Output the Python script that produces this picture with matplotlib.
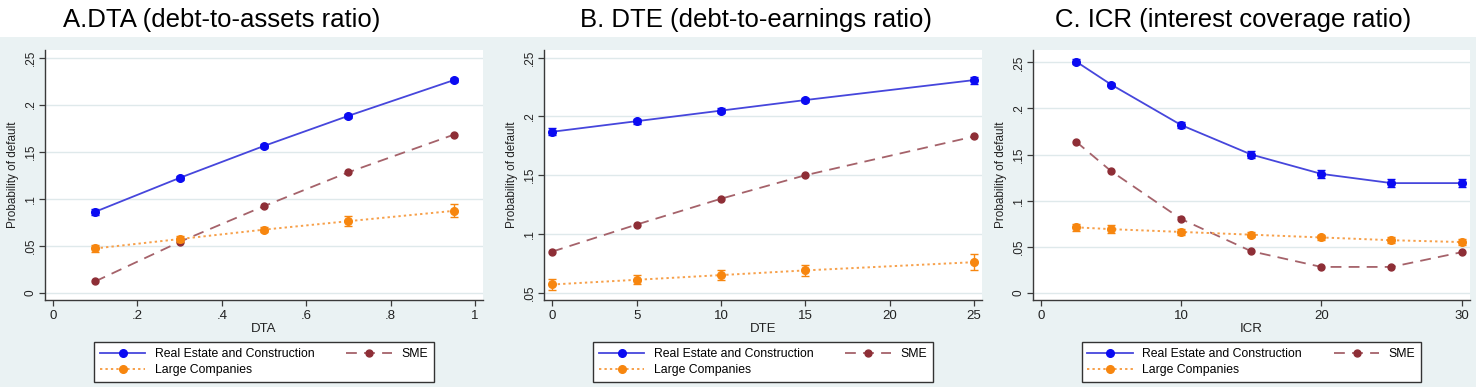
import matplotlib
matplotlib.use("Agg")
import matplotlib.pyplot as plt
import matplotlib.ticker as mticker
from matplotlib.patches import Rectangle
from matplotlib.lines import Line2D

plt.rcParams['font.family'] = ['Liberation Sans', 'DejaVu Sans']

# ---- data ----
titles = ["A.DTA (debt-to-assets ratio)", "B. DTE (debt-to-earnings ratio)", "C. ICR (interest coverage ratio)"]
xlabels = ["DTA", "DTE", "ICR"]
series_names = ["Real Estate and Construction", "SME", "Large Companies"]

dta_x = [0.1, 0.3, 0.5, 0.7, 0.95]
dta_re = [0.086, 0.122, 0.156, 0.188, 0.226]
dta_sme = [0.012, 0.054, 0.092, 0.128, 0.168]
dta_large = [0.047, 0.057, 0.067, 0.076, 0.087]
dta_re_err = [0.003, 0.002, 0.002, 0.002, 0.002]
dta_sme_err = [0.001, 0.001, 0.001, 0.001, 0.001]
dta_large_err = [0.004, 0.003, 0.003, 0.005, 0.007]

dte_x = [0, 5, 10, 15, 25]
dte_re = [0.187, 0.196, 0.205, 0.214, 0.231]
dte_sme = [0.085, 0.108, 0.130, 0.150, 0.183]
dte_large = [0.057, 0.061, 0.065, 0.069, 0.076]
dte_re_err = [0.003, 0.002, 0.002, 0.002, 0.003]
dte_sme_err = [0.001, 0.001, 0.001, 0.001, 0.001]
dte_large_err = [0.005, 0.004, 0.004, 0.005, 0.007]

icr_x = [2.5, 5, 10, 15, 20, 25, 30]
icr_re = [0.251, 0.226, 0.182, 0.150, 0.129, 0.119, 0.119]
icr_sme = [0.164, 0.132, 0.080, 0.045, 0.028, 0.028, 0.044]
icr_large = [0.071, 0.069, 0.066, 0.063, 0.060, 0.057, 0.055]
icr_re_err = [0.003, 0.002, 0.003, 0.004, 0.004, 0.004, 0.004]
icr_sme_err = [0.001, 0.001, 0.001, 0.001, 0.001, 0.001, 0.001]
icr_large_err = [0.004, 0.004, 0.003, 0.003, 0.003, 0.003, 0.003]

yticks_ab = [0, 0.05, 0.1, 0.15, 0.2, 0.25]
yticks_b = [0.05, 0.1, 0.15, 0.2, 0.25]
xticks_a = [0, 0.2, 0.4, 0.6, 0.8, 1]
xticks_b = [0, 5, 10, 15, 20, 25]
xticks_c = [0, 10, 20, 30]

W, H = 1482, 387
BG = "#eaf2f3"
GRID = "#dfe9eb"
C_RE, C_RE_LINE = "#0b0bf2", "#4646dc"
C_SME, C_SME_LINE = "#8e2e36", "#a5626a"
C_LG, C_LG_LINE = "#f7860f", "#f7a04a"

fig = plt.figure(figsize=(W / 100, H / 100), dpi=100)
fig.patches.append(Rectangle((0, 0), 1476 / W, (H - 37) / H, transform=fig.transFigure,
                             facecolor=BG, edgecolor="none", zorder=-10))


def stata_fmt(v, pos=None):
    s = f"{v:.2f}".rstrip("0").rstrip(".")
    if s.startswith("0."):
        s = s[1:]
    return s


def px_axes(left, right, top, bottom):
    return fig.add_axes([left / W, (H - bottom) / H, (right - left) / W, (bottom - top) / H])


panels = [
    dict(box=(45, 483), xlim=(-0.019, 1.019), ylim=(-0.0078, 0.258), xt=xticks_a, yt=yticks_ab,
         x=dta_x, re=dta_re, sme=dta_sme, lg=dta_large,
         ere=dta_re_err, esme=dta_sme_err, elg=dta_large_err, tx=222),
    dict(box=(544, 982), xlim=(-0.49, 25.47), ylim=(0.0438, 0.2566), xt=xticks_b, yt=yticks_b,
         x=dte_x, re=dte_re, sme=dte_sme, lg=dte_large,
         ere=dte_re_err, esme=dte_sme_err, elg=dte_large_err, tx=756),
    dict(box=(1033, 1470), xlim=(-0.57, 30.6), ylim=(-0.0079, 0.2635), xt=xticks_c, yt=yticks_ab,
         x=icr_x, re=icr_re, sme=icr_sme, lg=icr_large,
         ere=icr_re_err, esme=icr_sme_err, elg=icr_large_err, tx=1233),
]

for i, p in enumerate(panels):
    ax = px_axes(p["box"][0], p["box"][1], 50, 300)
    ax.set_facecolor("white")
    ax.set_xlim(*p["xlim"])
    ax.set_ylim(*p["ylim"])
    ax.set_xticks(p["xt"])
    ax.set_yticks(p["yt"])
    ax.xaxis.set_major_formatter(mticker.FuncFormatter(stata_fmt))
    ax.yaxis.set_major_formatter(mticker.FuncFormatter(stata_fmt))
    ax.grid(axis="y", color=GRID, linewidth=1.0, zorder=0)
    ax.set_axisbelow(True)
    for s in ["top", "right"]:
        ax.spines[s].set_visible(False)
    for s in ["left", "bottom"]:
        ax.spines[s].set_color("#3a3a3a")
        ax.spines[s].set_linewidth(1.0)
    ax.tick_params(axis="both", colors="#3a3a3a", length=4, width=0.9, labelcolor="#222222")
    ax.tick_params(axis="x", labelsize=9.5, pad=3)
    ax.tick_params(axis="y", labelsize=8.5, pad=2)
    for lab in ax.get_yticklabels():
        lab.set_rotation(90)
        lab.set_va("center")
    ax.set_xlabel(xlabels[i], fontsize=9.5, labelpad=1, color="#222222")
    ax.set_ylabel("Probability of default", fontsize=8.5, labelpad=4, color="#222222")

    ax.errorbar(p["x"], p["re"], yerr=p["ere"], color=C_RE_LINE, ecolor=C_RE, elinewidth=1.0,
                capsize=3, capthick=1.0, linewidth=1.3, marker="o", markersize=5.5,
                markerfacecolor=C_RE, markeredgecolor=C_RE, zorder=4)
    ax.errorbar(p["x"], p["sme"], yerr=p["esme"], color=C_SME_LINE, ecolor=C_SME, elinewidth=1.0,
                capsize=2, capthick=1.0, linewidth=1.3, dashes=(6, 4), marker="o", markersize=5,
                markerfacecolor=C_SME, markeredgecolor=C_SME, zorder=3)
    ax.errorbar(p["x"], p["lg"], yerr=p["elg"], color=C_LG_LINE, ecolor=C_LG, elinewidth=1.0,
                capsize=3, capthick=1.0, linewidth=1.4, dashes=(1.2, 1.6), marker="o", markersize=5.5,
                markerfacecolor=C_LG, markeredgecolor=C_LG, zorder=5)

    h_re = Line2D([], [], color=C_RE_LINE, linewidth=1.3, marker="o", markersize=5.5,
                  markerfacecolor=C_RE, markeredgecolor=C_RE)
    h_sme = Line2D([], [], color=C_SME_LINE, linewidth=1.3, dashes=(6, 4), marker="o", markersize=5,
                   markerfacecolor=C_SME, markeredgecolor=C_SME)
    h_lg = Line2D([], [], color=C_LG_LINE, linewidth=1.4, dashes=(1.2, 1.6), marker="o", markersize=5.5,
                  markerfacecolor=C_LG, markeredgecolor=C_LG)
    cx = (p["box"][0] + p["box"][1]) / 2
    leg = fig.legend([h_re, h_lg, h_sme], [series_names[0], series_names[2], series_names[1]],
                     ncol=2, loc="center", bbox_to_anchor=(cx / W, (H - 362) / H),
                     fontsize=8.8, frameon=True, fancybox=False, framealpha=1,
                     edgecolor="#333333", facecolor="white", numpoints=1,
                     handlelength=3.7, handletextpad=0.8, columnspacing=2.6,
                     labelspacing=0.35, borderpad=0.45, borderaxespad=0)
    leg.get_frame().set_linewidth(1.0)

    fig.text(p["tx"] / W, (H - 20) / H, titles[i], fontsize=18.5, ha="center", va="center",
             color="black")

fig.savefig("out.png", dpi=100)
